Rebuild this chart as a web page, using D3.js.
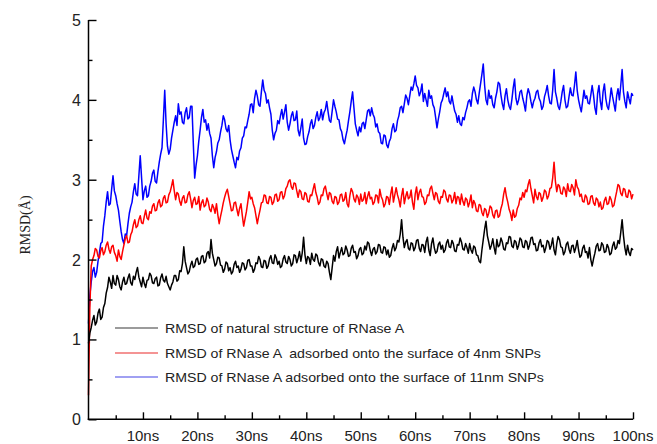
<!DOCTYPE html>
<html>
<head>
<meta charset="utf-8">
<script src="https://cdn.jsdelivr.net/npm/d3@7"></script>
<style>
  html, body { margin: 0; padding: 0; background: #fff; }
  svg { display: block; }
</style>
</head>
<body>
<svg id="chart" width="657" height="444"></svg>
<script>
// Sampling step of the trajectories (ns); each array runs from 0 to 100 ns
const timeStep = 0.25;

// RMSD of the native RNase A structure (Å)
const rmsdNative = [
  0.95,1.08,1.15,1.24,1.30,1.18,1.22,1.33,1.38,1.25,1.28,1.40,1.45,1.58,1.65,1.78,1.72,1.64,1.80,1.70,
  1.68,1.80,1.75,1.66,1.62,1.72,1.78,1.69,1.70,1.77,1.82,1.71,1.68,1.79,1.75,1.84,1.90,1.78,1.72,1.66,
  1.78,1.70,1.65,1.74,1.75,1.83,1.80,1.71,1.70,1.76,1.78,1.67,1.68,1.77,1.82,1.74,1.72,1.79,1.70,1.66,
  1.62,1.68,1.72,1.80,1.80,1.73,1.75,1.86,1.85,1.95,2.16,1.98,1.90,1.82,1.85,1.93,1.98,1.90,1.92,2.00,
  2.02,1.94,1.95,2.04,2.05,1.96,1.98,2.08,2.10,2.02,2.25,2.08,2.00,1.92,1.95,2.03,2.02,1.93,1.92,1.84,
  1.88,1.97,1.95,1.86,1.90,1.82,1.85,1.94,1.98,1.90,1.92,1.84,1.88,1.96,1.95,1.87,1.90,1.99,2.00,1.92,
  1.92,1.84,1.88,1.96,1.95,2.04,2.00,1.91,1.90,1.99,1.98,1.89,1.92,2.01,2.05,1.96,1.95,2.06,2.02,1.94,
  1.98,1.90,1.92,2.01,2.05,1.97,1.95,2.04,2.00,1.92,1.95,2.06,2.05,1.96,2.02,2.10,1.98,2.08,2.28,2.06,
  1.95,2.04,2.02,1.94,2.08,2.00,1.98,2.07,2.05,1.96,1.92,2.01,2.00,1.92,1.90,1.98,1.95,1.84,1.75,1.90,
  2.05,1.98,2.10,2.16,2.02,2.09,2.15,2.06,2.08,2.17,2.12,2.04,2.05,2.14,2.18,2.09,2.10,2.01,2.05,2.13,
  2.15,2.06,2.08,2.17,2.12,2.22,2.20,2.11,2.05,2.13,2.15,2.07,2.10,2.19,2.18,2.09,2.08,2.16,2.15,2.06,
  2.12,2.03,2.05,2.14,2.20,2.11,2.15,2.24,2.22,2.32,2.50,2.28,2.15,2.22,2.25,2.14,2.12,2.21,2.20,2.11,
  2.15,2.24,2.25,2.14,2.10,2.19,2.18,2.09,2.22,2.28,2.12,2.05,2.20,2.27,2.15,2.08,2.10,2.19,2.22,2.13,
  2.18,2.09,2.12,2.21,2.25,2.16,2.15,2.24,2.20,2.11,2.10,2.19,2.18,2.27,2.22,2.13,2.12,2.20,2.15,2.08,
  2.20,2.12,2.08,2.17,2.15,2.06,2.05,1.98,1.96,2.12,2.25,2.38,2.48,2.30,2.22,2.13,2.18,2.26,2.15,2.07,
  2.25,2.16,2.18,2.27,2.22,2.13,2.12,2.21,2.20,2.29,2.28,2.17,2.15,2.24,2.22,2.13,2.18,2.27,2.25,2.16,
  2.15,2.24,2.22,2.13,2.18,2.27,2.28,2.19,2.20,2.11,2.12,2.21,2.25,2.16,2.18,2.09,2.15,2.24,2.22,2.13,
  2.18,2.27,2.12,2.06,2.20,2.29,2.25,2.16,2.15,2.06,2.10,2.19,2.22,2.13,2.08,2.17,2.18,2.09,2.15,2.24,
  2.12,2.03,2.05,2.14,2.18,2.09,2.10,2.02,2.15,2.00,1.92,2.01,2.08,2.17,2.20,2.11,2.12,2.21,2.18,2.09,
  2.10,2.19,2.15,2.06,2.08,2.17,2.22,2.13,2.15,2.24,2.20,2.34,2.50,2.30,2.15,2.06,2.18,2.09,2.05,2.14,
  2.12
];

// RMSD of RNase A adsorbed on 4 nm SNPs (Å)
const rmsd4nm = [
  0.30,1.40,1.92,2.00,2.05,2.14,2.12,2.04,2.02,2.11,2.15,2.06,2.10,2.18,2.22,2.13,2.08,2.16,2.18,2.09,
  2.05,1.98,2.12,2.04,2.00,2.10,2.18,2.26,2.30,2.21,2.22,2.31,2.35,2.44,2.50,2.40,2.42,2.50,2.55,2.46,
  2.45,2.54,2.62,2.52,2.50,2.60,2.58,2.67,2.70,2.61,2.62,2.71,2.75,2.66,2.68,2.77,2.80,2.71,2.72,2.81,
  2.85,2.92,3.00,2.86,2.75,2.84,2.82,2.73,2.68,2.77,2.80,2.71,2.72,2.81,2.85,2.76,2.65,2.74,2.78,2.69,
  2.70,2.79,2.62,2.71,2.75,2.66,2.68,2.77,2.72,2.63,2.60,2.69,2.65,2.58,2.70,2.56,2.45,2.54,2.62,2.71,
  2.78,2.84,2.88,2.79,2.70,2.61,2.62,2.71,2.72,2.63,2.55,2.64,2.70,2.55,2.42,2.51,2.60,2.72,2.85,2.76,
  2.78,2.70,2.65,2.55,2.45,2.54,2.62,2.71,2.72,2.81,2.80,2.71,2.70,2.79,2.78,2.69,2.72,2.81,2.82,2.73,
  2.75,2.84,2.85,2.76,2.80,2.89,2.92,2.98,3.00,2.91,2.88,2.96,2.95,2.86,2.78,2.87,2.85,2.76,2.75,2.84,
  2.82,2.73,2.72,2.81,2.80,2.88,2.95,2.84,2.78,2.69,2.72,2.81,2.80,2.89,2.92,2.83,2.75,2.84,2.82,2.73,
  2.70,2.79,2.78,2.69,2.72,2.81,2.82,2.73,2.75,2.84,2.70,2.66,2.80,2.89,2.85,2.76,2.72,2.81,2.78,2.69,
  2.82,2.73,2.75,2.84,2.70,2.79,2.85,2.76,2.78,2.69,2.72,2.81,2.80,2.71,2.88,2.79,2.75,2.66,2.70,2.79,
  2.78,2.69,2.82,2.91,2.72,2.81,2.90,2.81,2.75,2.66,2.80,2.89,2.70,2.79,2.85,2.76,2.78,2.87,2.72,2.63,
  2.82,2.91,2.75,2.84,2.88,2.79,2.78,2.69,2.72,2.81,2.80,2.89,2.92,2.83,2.75,2.84,2.82,2.73,2.70,2.79,
  2.78,2.87,2.85,2.76,2.72,2.81,2.80,2.71,2.75,2.84,2.70,2.79,2.78,2.69,2.82,2.73,2.68,2.77,2.75,2.66,
  2.72,2.81,2.65,2.74,2.70,2.61,2.60,2.69,2.68,2.59,2.55,2.64,2.62,2.53,2.58,2.67,2.65,2.56,2.52,2.61,
  2.62,2.53,2.55,2.64,2.70,2.82,2.90,2.79,2.72,2.63,2.58,2.49,2.62,2.53,2.55,2.64,2.68,2.77,2.75,2.84,
  2.78,2.87,2.85,2.94,3.00,2.89,2.80,2.71,2.88,2.79,2.75,2.84,2.82,2.73,2.78,2.87,2.85,2.76,2.80,2.89,
  2.90,3.02,3.22,2.98,2.85,2.94,2.92,2.83,2.82,2.91,2.88,2.79,2.95,2.86,2.85,2.94,2.90,2.81,3.00,2.91,
  2.88,2.79,2.82,2.73,2.72,2.81,2.78,2.69,2.70,2.79,2.80,2.71,2.68,2.77,2.75,2.66,2.72,2.63,2.65,2.74,
  2.78,2.69,2.70,2.79,2.75,2.66,2.68,2.77,2.85,2.94,2.92,2.83,2.80,2.89,2.88,2.79,2.78,2.87,2.85,2.76,
  2.82
];

// RMSD of RNase A adsorbed on 11 nm SNPs (Å)
const rmsd11nm = [
  1.20,1.55,1.72,1.85,1.90,1.78,1.84,1.98,2.08,2.20,2.22,2.42,2.55,2.72,2.85,2.68,2.70,2.88,3.05,2.86,
  2.80,2.70,2.62,2.48,2.35,2.25,2.20,2.32,2.30,2.45,2.58,2.66,2.72,2.85,2.95,2.82,2.80,3.05,3.30,3.02,
  2.75,2.86,2.92,2.78,2.80,2.92,2.98,3.08,3.12,2.98,2.96,3.10,3.22,3.32,3.40,3.75,4.12,3.70,3.42,3.32,
  3.38,3.52,3.62,3.72,3.80,3.68,3.95,3.82,3.85,3.72,3.70,3.84,3.90,3.76,3.78,3.92,3.92,3.45,3.02,3.18,
  3.30,3.48,3.62,3.78,3.88,3.72,3.75,3.62,3.70,3.58,3.52,3.30,3.15,3.28,3.35,3.46,3.50,3.60,3.68,3.80,
  3.75,3.64,3.60,3.68,3.50,3.38,3.30,3.22,3.15,3.28,3.25,3.36,3.40,3.52,3.55,3.66,3.65,3.74,3.82,3.94,
  3.95,3.84,4.02,4.12,4.05,3.94,3.92,4.10,4.25,4.12,4.08,3.96,4.00,3.90,3.82,3.62,3.50,3.58,3.62,3.74,
  3.70,3.80,3.88,3.76,3.85,3.94,3.72,3.62,3.70,3.80,3.85,3.74,3.75,3.86,3.62,3.55,3.65,3.76,3.52,3.44,
  3.45,3.54,3.60,3.70,3.75,3.64,3.68,3.78,3.85,3.74,3.78,3.88,3.75,3.84,3.88,3.98,3.85,3.74,3.72,3.86,
  4.00,3.92,3.85,3.76,3.75,3.64,3.60,3.50,3.45,3.54,3.62,3.74,3.85,3.98,4.10,3.90,3.70,3.62,3.55,3.66,
  3.60,3.70,3.72,3.64,3.75,3.86,3.88,3.80,3.90,3.82,3.78,3.66,3.70,3.60,3.58,3.46,3.45,3.56,3.55,3.44,
  3.40,3.48,3.52,3.64,3.70,3.60,3.62,3.74,3.80,3.90,3.92,3.84,3.95,4.06,4.02,3.94,4.05,4.16,4.12,4.20,
  4.30,4.18,4.15,4.05,4.10,4.20,3.98,4.08,4.00,3.92,4.12,4.02,4.05,3.94,3.90,3.78,3.65,3.76,3.85,3.96,
  4.00,4.08,4.15,4.04,4.10,3.98,3.95,4.05,3.95,3.86,3.82,3.72,3.80,3.70,3.68,3.78,3.75,3.84,3.90,3.98,
  4.00,3.92,4.08,4.16,4.10,4.00,3.95,4.08,4.20,4.32,4.45,4.18,4.00,3.94,4.12,4.02,4.05,3.94,3.90,4.02,
  4.10,4.22,4.20,4.06,3.95,3.88,4.05,4.14,4.00,3.92,3.88,4.00,4.15,4.26,4.02,3.94,4.00,4.10,4.12,4.02,
  3.95,3.86,4.05,4.14,4.08,3.98,3.90,3.98,4.02,4.10,4.12,4.02,3.98,3.88,3.92,4.04,4.10,4.18,4.05,3.96,
  3.95,4.12,4.38,4.10,4.02,3.92,3.88,3.98,4.10,4.18,4.00,3.90,3.92,4.04,4.15,4.06,4.05,4.18,4.35,4.12,
  4.00,3.92,3.85,3.98,4.12,4.02,4.05,3.96,3.95,4.06,4.18,4.06,3.90,3.82,4.08,4.18,3.98,3.88,4.10,4.20,
  4.02,3.92,3.88,4.00,4.15,4.04,3.95,3.86,4.05,4.14,4.00,4.18,4.38,4.10,3.98,3.90,4.10,4.02,3.95,4.08,
  4.05
];

const seriesNames = [
  "RMSD of natural structure of RNase A",
  "RMSD of RNase A  adsorbed onto the surface of 4nm SNPs",
  "RMSD of RNase A adsorbed onto the surface of 11nm SNPs"
];
const seriesColors = ["#000000", "#ff0000", "#0000ff"];
const legendColors = ["#7a7a7a", "#f07070", "#8080ee"];

const xMajorTicks = [10, 20, 30, 40, 50, 60, 70, 80, 90, 100];
const xMinorTicks = [5, 15, 25, 35, 45, 55, 65, 75, 85, 95];
const yMajorTicks = [0, 1, 2, 3, 4, 5];
const yMinorTicks = [0.5, 1.5, 2.5, 3.5, 4.5];
const yAxisTitle = "RMSD(Å)";

const svg = d3.select("#chart");

const x = d3.scaleLinear().domain([0, 100]).range([88.5, 633]);
const y = d3.scaleLinear().domain([0, 5]).range([419.3, 20]);

// trajectories (drawn first so the axes sit on top)
const line = d3.line()
  .x((d, i) => x(i * timeStep))
  .y(d => y(d));

const seriesData = [rmsdNative, rmsd4nm, rmsd11nm];
[2, 1, 0].forEach(k => {
  svg.append("path")
    .datum(seriesData[k])
    .attr("fill", "none")
    .attr("stroke", seriesColors[k])
    .attr("stroke-width", 1.5)
    .attr("stroke-linejoin", "round")
    .attr("d", line);
});

const axisFont = "Arial, 'Liberation Sans', Helvetica, sans-serif";

// bottom axis, ticks pointing up into the plot
const xAxis = svg.append("g").attr("transform", `translate(0,${y(0)})`);
xAxis.call(d3.axisTop(x).tickValues(xMajorTicks).tickSize(7).tickFormat(""));
xAxis.append("g").call(d3.axisTop(x).tickValues(xMinorTicks).tickSize(4).tickFormat(""));
xAxis.selectAll(".domain").remove();
xAxis.append("line")
  .attr("x1", x(0) - 0.75).attr("x2", x(100))
  .attr("stroke", "#000").attr("stroke-width", 1.5);
xAxis.selectAll(".tick line").attr("stroke", "#000").attr("stroke-width", 1.4);
xAxis.selectAll(".xlab")
  .data(xMajorTicks)
  .enter().append("text")
  .attr("class", "xlab")
  .attr("x", d => x(d))
  .attr("y", 22)
  .attr("text-anchor", "middle")
  .attr("font-family", axisFont)
  .attr("font-size", 15)
  .attr("fill", "#222")
  .text(d => d + "ns");

// left axis, ticks pointing right into the plot
const yAxis = svg.append("g").attr("transform", `translate(${x(0)},0)`);
yAxis.call(d3.axisRight(y).tickValues(yMajorTicks).tickSize(8).tickFormat(""));
yAxis.append("g").call(d3.axisRight(y).tickValues(yMinorTicks).tickSize(4).tickFormat(""));
yAxis.selectAll(".domain").remove();
yAxis.append("line")
  .attr("y1", y(0) + 0.75).attr("y2", y(5))
  .attr("stroke", "#000").attr("stroke-width", 1.5);
yAxis.selectAll(".tick line").attr("stroke", "#000").attr("stroke-width", 1.4);
yAxis.selectAll(".ylab")
  .data(yMajorTicks)
  .enter().append("text")
  .attr("class", "ylab")
  .attr("x", -7.5)
  .attr("y", d => y(d))
  .attr("dy", "0.37em")
  .attr("text-anchor", "end")
  .attr("font-family", axisFont)
  .attr("font-size", 16)
  .attr("fill", "#222")
  .text(d => d);

// y axis title
svg.append("text")
  .attr("transform", `translate(30,225) rotate(-90)`)
  .attr("text-anchor", "middle")
  .attr("font-family", "'Liberation Serif', 'Times New Roman', serif")
  .attr("font-size", 14)
  .attr("fill", "#222")
  .text(yAxisTitle);

// legend
const legendY = [328, 353, 377];
seriesNames.forEach((name, i) => {
  svg.append("line")
    .attr("x1", 115).attr("x2", 158)
    .attr("y1", legendY[i]).attr("y2", legendY[i])
    .attr("stroke", legendColors[i]).attr("stroke-width", 1.6);
  svg.append("text")
    .attr("transform", `translate(165,${legendY[i]}) scale(1.09,1)`)
    .attr("dy", "0.36em")
    .attr("font-family", axisFont)
    .attr("font-size", 13)
    .attr("fill", "#222")
    .style("white-space", "pre")
    .text(name);
});
</script>
</body>
</html>
